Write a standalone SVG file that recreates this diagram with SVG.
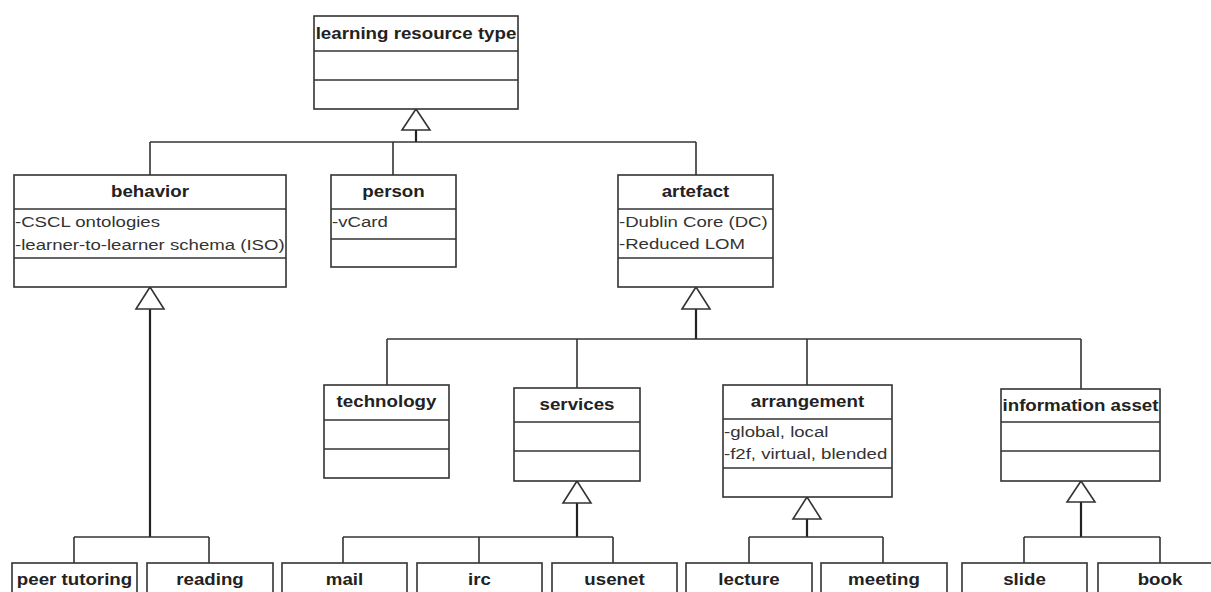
<svg xmlns="http://www.w3.org/2000/svg" width="1211" height="592" viewBox="0 0 1211 592">
<style>
rect.b{fill:#fff;stroke:#333;stroke-width:1.6}
line.d{stroke:#333;stroke-width:1.6}
.c line,.c polyline{stroke:#333;stroke-width:1.6;fill:none}
.c line.s{stroke-width:2.2;stroke:#222}
.c polygon{fill:#fff;stroke:#333;stroke-width:1.6}
text{font-family:"Liberation Sans",Arial,sans-serif;font-size:15.5px}
text.t{font-weight:bold;fill:#222;text-anchor:middle;font-size:16px}
text.a{fill:#333}
</style>
<rect width="1211" height="592" fill="#fff"/>
<g class="c" id="connectors">
<line class="s" x1="416" y1="130" x2="416" y2="142"/>
<line x1="150" y1="142" x2="696" y2="142"/>
<line x1="150" y1="142" x2="150" y2="175"/>
<line x1="393" y1="142" x2="393" y2="175"/>
<line x1="696" y1="142" x2="696" y2="175"/>
<polygon points="416,109 402,130 430,130"/>
<line class="s" x1="150" y1="309" x2="150" y2="537"/>
<line x1="74" y1="537" x2="209" y2="537"/>
<line x1="74" y1="537" x2="74" y2="563"/>
<line x1="209" y1="537" x2="209" y2="563"/>
<polygon points="150,287 136,309 164,309"/>
<line class="s" x1="696" y1="309" x2="696" y2="339"/>
<line x1="387" y1="339" x2="1081" y2="339"/>
<line x1="387" y1="339" x2="387" y2="385"/>
<line x1="577" y1="339" x2="577" y2="388"/>
<line x1="807" y1="339" x2="807" y2="385"/>
<line x1="1081" y1="339" x2="1081" y2="389"/>
<polygon points="696,287 682,309 710,309"/>
<line class="s" x1="577" y1="503" x2="577" y2="537"/>
<line x1="343" y1="537" x2="613" y2="537"/>
<line x1="343" y1="537" x2="343" y2="563"/>
<line x1="479" y1="537" x2="479" y2="563"/>
<line x1="613" y1="537" x2="613" y2="563"/>
<polygon points="577,481 563,503 591,503"/>
<line class="s" x1="807" y1="519" x2="807" y2="537"/>
<line x1="749" y1="537" x2="883" y2="537"/>
<line x1="749" y1="537" x2="749" y2="563"/>
<line x1="883" y1="537" x2="883" y2="563"/>
<polygon points="807,497 793,519 821,519"/>
<line class="s" x1="1081" y1="502" x2="1081" y2="537"/>
<line x1="1024" y1="537" x2="1160" y2="537"/>
<line x1="1024" y1="537" x2="1024" y2="563"/>
<line x1="1160" y1="537" x2="1160" y2="563"/>
<polygon points="1081,481 1067,502 1095,502"/>
</g>
<g id="learning-resource-type">
<rect class="b" x="314" y="16" width="204" height="93"/>
<line class="d" x1="314" y1="51" x2="518" y2="51"/>
<line class="d" x1="314" y1="80" x2="518" y2="80"/>
<text class="t" transform="translate(416,39) scale(1.17,1)">learning resource type</text>
</g>
<g id="behavior">
<rect class="b" x="14" y="175" width="272" height="112"/>
<line class="d" x1="14" y1="209" x2="286" y2="209"/>
<line class="d" x1="14" y1="258" x2="286" y2="258"/>
<text class="t" transform="translate(150,197) scale(1.17,1)">behavior</text>
<text class="a" transform="translate(15,227) scale(1.2,1)">-CSCL ontologies</text>
<text class="a" transform="translate(15,250) scale(1.2,1)">-learner-to-learner schema (ISO)</text>
</g>
<g id="person">
<rect class="b" x="331" y="175" width="125" height="92"/>
<line class="d" x1="331" y1="209" x2="456" y2="209"/>
<line class="d" x1="331" y1="239" x2="456" y2="239"/>
<text class="t" transform="translate(393.5,197) scale(1.17,1)">person</text>
<text class="a" transform="translate(332,227) scale(1.2,1)">-vCard</text>
</g>
<g id="artefact">
<rect class="b" x="618" y="175" width="155" height="112"/>
<line class="d" x1="618" y1="209" x2="773" y2="209"/>
<line class="d" x1="618" y1="258" x2="773" y2="258"/>
<text class="t" transform="translate(695.5,197) scale(1.17,1)">artefact</text>
<text class="a" transform="translate(619,227) scale(1.2,1)">-Dublin Core (DC)</text>
<text class="a" transform="translate(619,249) scale(1.2,1)">-Reduced LOM</text>
</g>
<g id="technology">
<rect class="b" x="324" y="385" width="125" height="93"/>
<line class="d" x1="324" y1="420" x2="449" y2="420"/>
<line class="d" x1="324" y1="449" x2="449" y2="449"/>
<text class="t" transform="translate(386.5,407) scale(1.17,1)">technology</text>
</g>
<g id="services">
<rect class="b" x="514" y="388" width="126" height="93"/>
<line class="d" x1="514" y1="422" x2="640" y2="422"/>
<line class="d" x1="514" y1="451" x2="640" y2="451"/>
<text class="t" transform="translate(577,410) scale(1.17,1)">services</text>
</g>
<g id="arrangement">
<rect class="b" x="723" y="385" width="169" height="112"/>
<line class="d" x1="723" y1="419" x2="892" y2="419"/>
<line class="d" x1="723" y1="468" x2="892" y2="468"/>
<text class="t" transform="translate(807.5,407) scale(1.17,1)">arrangement</text>
<text class="a" transform="translate(724,437) scale(1.2,1)">-global, local</text>
<text class="a" transform="translate(724,459) scale(1.2,1)">-f2f, virtual, blended</text>
</g>
<g id="information-asset">
<rect class="b" x="1001" y="389" width="159" height="92"/>
<line class="d" x1="1001" y1="422" x2="1160" y2="422"/>
<line class="d" x1="1001" y1="451" x2="1160" y2="451"/>
<text class="t" transform="translate(1080.5,411) scale(1.17,1)">information asset</text>
</g>
<g id="peer-tutoring">
<rect class="b" x="12" y="563" width="125" height="60"/>
<text class="t" transform="translate(74.5,585) scale(1.17,1)">peer tutoring</text>
</g>
<g id="reading">
<rect class="b" x="147" y="563" width="126" height="60"/>
<text class="t" transform="translate(210,585) scale(1.17,1)">reading</text>
</g>
<g id="mail">
<rect class="b" x="282" y="563" width="125" height="60"/>
<text class="t" transform="translate(344.5,585) scale(1.17,1)">mail</text>
</g>
<g id="irc">
<rect class="b" x="417" y="563" width="125" height="60"/>
<text class="t" transform="translate(479.5,585) scale(1.17,1)">irc</text>
</g>
<g id="usenet">
<rect class="b" x="552" y="563" width="125" height="60"/>
<text class="t" transform="translate(614.5,585) scale(1.17,1)">usenet</text>
</g>
<g id="lecture">
<rect class="b" x="686" y="563" width="126" height="60"/>
<text class="t" transform="translate(749,585) scale(1.17,1)">lecture</text>
</g>
<g id="meeting">
<rect class="b" x="821" y="563" width="126" height="60"/>
<text class="t" transform="translate(884,585) scale(1.17,1)">meeting</text>
</g>
<g id="slide">
<rect class="b" x="962" y="563" width="125" height="60"/>
<text class="t" transform="translate(1024.5,585) scale(1.17,1)">slide</text>
</g>
<g id="book">
<rect class="b" x="1098" y="563" width="124" height="60"/>
<text class="t" transform="translate(1160,585) scale(1.17,1)">book</text>
</g>
</svg>
